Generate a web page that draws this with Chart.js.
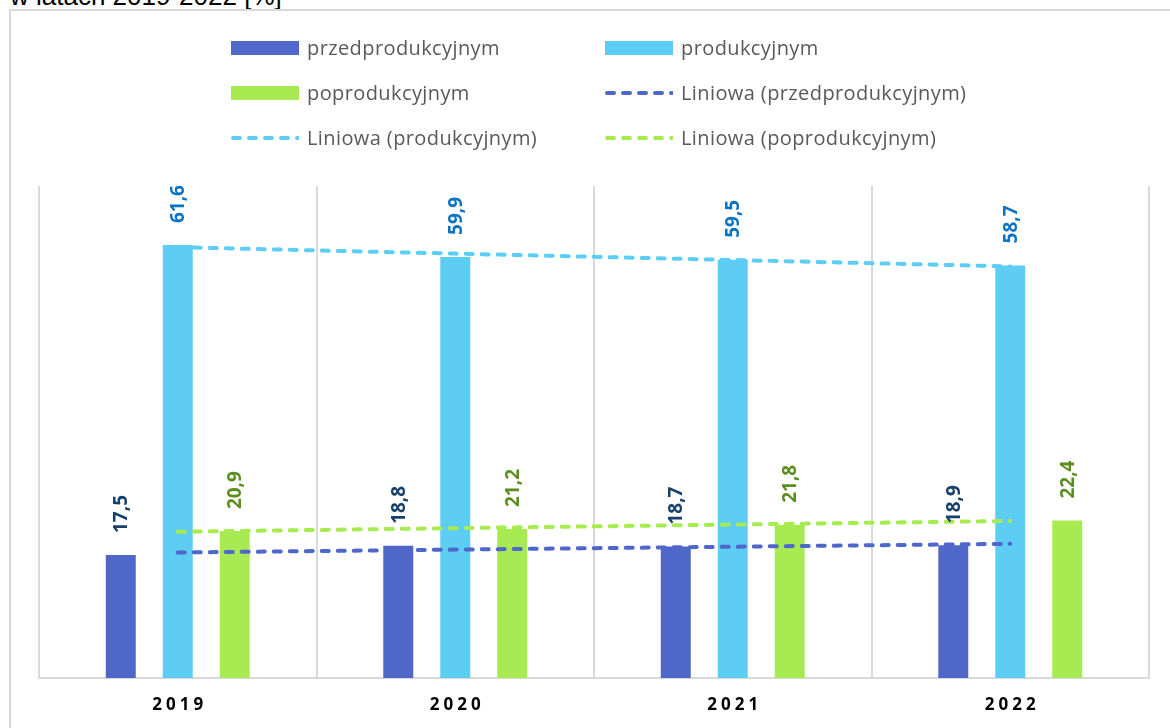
<!DOCTYPE html>
<html lang="pl">
<head>
<meta charset="utf-8">
<script src="https://cdn.jsdelivr.net/npm/chart.js@4.4.1/dist/chart.umd.min.js"></script>
<style>
    html, body { margin: 0; padding: 0; background: #fff; overflow: hidden; }
    body { width: 1170px; height: 728px; position: relative; }
    .tytul { position: absolute; left: 10px; top: -17px; font: 26px "Liberation Sans", Arial, sans-serif; line-height: 26px; color: #000; white-space: nowrap; }
    .ramka { position: absolute; left: 9px; top: 9px; width: 1200px; height: 800px; border: 2px solid #d9d9d9; }
    #wykres { position: absolute; left: 0; top: 0; }
    #legenda { position: absolute; left: 231px; top: 25px; display: grid; grid-template-columns: 374px 320px; }
    .poz { display: flex; align-items: center; height: 45px; font: 20px "Open Sans", sans-serif; letter-spacing: 0.4px; color: #595959; white-space: nowrap; }
    .poz svg { margin-right: 8px; flex: none; }
</style>
</head>
<body>
<div class="tytul">w latach 2019-2022 [%]</div>
<div class="ramka"></div>
<canvas id="wykres" width="1170" height="728"></canvas>
<div id="legenda"></div>
<script>
// Dane
const lata = ['2019', '2020', '2021', '2022'];
const przedprodukcyjny = [17.5, 18.8, 18.7, 18.9];
const produkcyjny = [61.6, 59.9, 59.5, 58.7];
const poprodukcyjny = [20.9, 21.2, 21.8, 22.4];

// Linie trendu (liniowe)
const trendPrzed = [17.86, 18.27, 18.68, 19.09];
const trendProd = [61.29, 60.38, 59.47, 58.56];
const trendPo = [20.81, 21.32, 21.83, 22.34];

const kolory = { przed: '#4e67c8', prod: '#5ecdf3', po: '#a7ea52' };
const koloryEtykiet = { przed: '#17406b', prod: '#0b73c2', po: '#5a8e1f' };

// Etykiety danych obrócone o 90 stopni
const etykietyDanych = {
    id: 'etykietyDanych',
    afterDatasetsDraw(chart) {
        const ctx = chart.ctx;
        chart.data.datasets.forEach((ds, i) => {
            if (ds.type === 'line') return;
            const meta = chart.getDatasetMeta(i);
            meta.data.forEach((bar, j) => {
                ctx.save();
                ctx.translate(bar.x + 1, bar.y - 22);
                ctx.rotate(-Math.PI / 2);
                ctx.font = 'bold 19px "Open Sans"';
                ctx.fillStyle = ds.kolorEtykiety;
                ctx.textAlign = 'left';
                ctx.textBaseline = 'middle';
                ctx.fillText(ds.data[j].toFixed(1).replace('.', ','), 0, 0);
                ctx.restore();
            });
        });
    }
};

// Podpisy osi X z rozstrzelonymi literami
const podpisyOsi = {
    id: 'podpisyOsi',
    afterDraw(chart) {
        const ctx = chart.ctx;
        const skala = chart.scales.x;
        ctx.save();
        ctx.font = 'bold 17px "Open Sans"';
        ctx.fillStyle = '#000';
        ctx.textAlign = 'center';
        ctx.textBaseline = 'middle';
        ctx.letterSpacing = '4px';
        chart.data.labels.forEach((etykieta, i) => {
            ctx.fillText(etykieta, skala.getPixelForTick(i) + 2, 705);
        });
        ctx.restore();
    }
};

// Legenda w HTML (dwie kolumny)
const legendaHtml = {
    id: 'legendaHtml',
    afterUpdate(chart) {
        const kontener = document.getElementById('legenda');
        kontener.innerHTML = '';
        chart.data.datasets.forEach((ds) => {
            const poz = document.createElement('div');
            poz.className = 'poz';
            let znak;
            if (ds.type === 'line') {
                znak = `<svg width="68" height="14"><line x1="2" y1="7" x2="67" y2="7" stroke="${ds.borderColor}" stroke-width="4" stroke-linecap="round" stroke-dasharray="7 9"/></svg>`;
            } else {
                znak = `<svg width="68" height="14"><rect x="0" y="0" width="68" height="14" fill="${ds.backgroundColor}"/></svg>`;
            }
            poz.innerHTML = znak + '<span>' + ds.label + '</span>';
            kontener.appendChild(poz);
        });
    }
};

const slupki = (label, dane, kolor, kolorEtykiety) => ({
    type: 'bar',
    label: label,
    data: dane,
    backgroundColor: kolor,
    kolorEtykiety: kolorEtykiety,
    categoryPercentage: 0.616,
    barPercentage: 0.526,
    order: 2
});

const trend = (label, dane, kolor) => ({
    type: 'line',
    label: label,
    data: dane,
    borderColor: kolor,
    borderWidth: 4,
    borderDash: [7, 9],
    borderCapStyle: 'round',
    pointRadius: 0,
    fill: false,
    tension: 0,
    order: 1
});

new Chart(document.getElementById('wykres').getContext('2d'), {
    type: 'bar',
    data: {
        labels: lata,
        datasets: [
            slupki('przedprodukcyjnym', przedprodukcyjny, kolory.przed, koloryEtykiet.przed),
            slupki('produkcyjnym', produkcyjny, kolory.prod, koloryEtykiet.prod),
            slupki('poprodukcyjnym', poprodukcyjny, kolory.po, koloryEtykiet.po),
            trend('Liniowa (przedprodukcyjnym)', trendPrzed, kolory.przed),
            trend('Liniowa (produkcyjnym)', trendProd, kolory.prod),
            trend('Liniowa (poprodukcyjnym)', trendPo, kolory.po)
        ]
    },
    options: {
        responsive: false,
        devicePixelRatio: 1,
        animation: false,
        layout: { padding: { left: 39, right: 21, top: 186, bottom: 0 } },
        scales: {
            x: {
                offset: true,
                grid: { offset: true, color: '#d9d9d9', lineWidth: 2, drawTicks: false },
                border: { color: '#d9d9d9', width: 2 },
                ticks: { display: false },
                afterFit: (skala) => { skala.height = 50; }
            },
            y: {
                display: false,
                min: 0,
                max: 70
            }
        },
        plugins: {
            legend: { display: false },
            tooltip: { enabled: false }
        }
    },
    plugins: [etykietyDanych, podpisyOsi, legendaHtml]
});
</script>
</body>
</html>
